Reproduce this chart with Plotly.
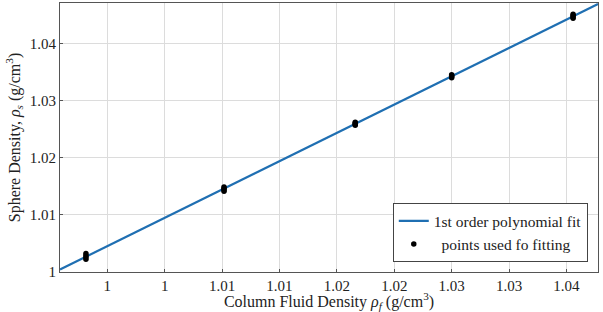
import numpy as np
import plotly.graph_objects as go

# measured points (column fluid density vs sphere density)
pts_x = [0.99814]*4 + [1.01017]*4 + [1.0216]*4 + [1.0300]*4 + [1.04058]*4
pts_y = [1.00222, 1.00258, 1.00290, 1.00325,
         1.01413, 1.01438, 1.01465, 1.01490,
         1.02570, 1.02588, 1.02606, 1.02620,
         1.03402, 1.03420, 1.03438, 1.03452,
         1.04445, 1.04468, 1.04490, 1.04512]

fit_x_extent = [0.99588, 1.04275]

x_tickvals = [1.000, 1.005, 1.010, 1.015, 1.020, 1.025, 1.030, 1.035, 1.040]
x_ticktext = ["1", "1", "1.01", "1.01", "1.02", "1.02", "1.03", "1.03", "1.04"]
y_tickvals = [1.00, 1.01, 1.02, 1.03, 1.04]
y_ticktext = ["1", "1.01", "1.02", "1.03", "1.04"]

coef = np.polyfit(pts_x, pts_y, 1)
fit_x = np.array(fit_x_extent)
fit_y = np.polyval(coef, fit_x)

FONT = "Liberation Serif, Times New Roman, serif"

fig = go.Figure()
fig.add_trace(go.Scatter(x=fit_x, y=fit_y, mode="lines",
                         line=dict(color="#1f6fb2", width=2.2),
                         name="1st order polynomial fit"))
fig.add_trace(go.Scatter(x=pts_x, y=pts_y, mode="markers",
                         marker=dict(color="black", size=5.5),
                         name="  points used fo fitting"))

fig.update_layout(
    width=603, height=312,
    margin=dict(l=60, r=5, t=3, b=40),
    paper_bgcolor="white", plot_bgcolor="white",
    font=dict(family=FONT, size=15, color="#222"),
    legend=dict(x=0.981, y=0.036, xanchor="right", yanchor="bottom",
                bordercolor="#444", borderwidth=1, bgcolor="white",
                font=dict(family=FONT, size=15.5), tracegroupgap=0,
                itemwidth=30),
    showlegend=True,
)
fig.update_xaxes(range=fit_x_extent, tickvals=x_tickvals, ticktext=x_ticktext,
                 showgrid=True, gridcolor="#dcdcdc", gridwidth=1,
                 showline=True, linecolor="#555", linewidth=1, mirror=True,
                 ticks="inside", ticklen=3, tickcolor="#555",
                 zeroline=False, tickfont=dict(family=FONT, size=15),
                 title=dict(text="Column Fluid Density <i>ρ<sub>f</sub></i> (g/cm<sup>3</sup>)",
                            font=dict(family=FONT, size=16), standoff=4))
fig.update_yaxes(range=[1.0, 1.0471], tickvals=y_tickvals, ticktext=y_ticktext,
                 showgrid=True, gridcolor="#dcdcdc", gridwidth=1,
                 showline=True, linecolor="#555", linewidth=1, mirror=True,
                 ticks="inside", ticklen=3, tickcolor="#555",
                 zeroline=False, tickfont=dict(family=FONT, size=15),
                 title=dict(text="Sphere Density, <i>ρ<sub>s</sub></i> (g/cm<sup>3</sup>)",
                            font=dict(family=FONT, size=16), standoff=5))

fig.write_html("out.html")
